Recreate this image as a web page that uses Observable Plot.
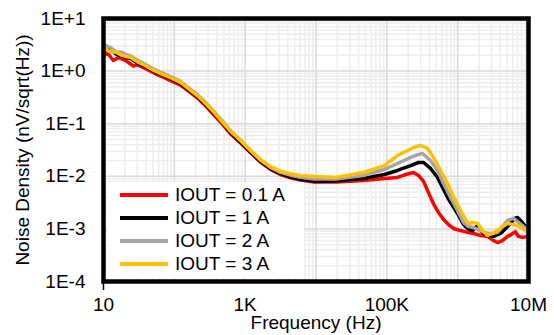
<!DOCTYPE html>
<html><head><meta charset="utf-8">
<script src="https://cdn.jsdelivr.net/npm/d3@7"></script>
<script src="https://cdn.jsdelivr.net/npm/@observablehq/plot@0.6"></script>
<style>
body{margin:0;background:#fff;font-family:"Liberation Sans",Arial,sans-serif;}
#wrap{position:relative;width:554px;height:335px;}
#legend{position:absolute;left:107px;top:182px;width:197px;height:96px;background:#fff;}
.row{position:absolute;left:0;height:23px;display:flex;align-items:center;font-size:19px;color:#000;white-space:nowrap;}
.sw{width:48px;height:4px;margin-left:13px;margin-right:7px;}
#ytitle{position:absolute;left:23px;top:150px;transform:translate(-50%,-50%) rotate(-90deg);font-size:19px;white-space:nowrap;color:#000;}
</style></head><body><div id="wrap"></div>
<script>
const seriesNames = ["IOUT = 0.1 A","IOUT = 1 A","IOUT = 2 A","IOUT = 3 A"];
const seriesColors = ["#ff0000","#000000","#a5a5a5","#ffc000"];

const freq01 = [10,11.8,13.8,16.3,20.5,26.5,30.2,40,46,55,71,90,122,160,210,270,360,480,621,860,1190,1650,2280,3150,4360,6000,9530,18900,46900,92700,141000,184000,238000,280000,330000,387000,456000,537000,631000,743000,873000,1.1e6,1.38e6,1.67e6,2.1e6,2.64e6,3.21e6,3.65e6,4.3e6,5.06e6,5.68e6,6.48e6,7.2e6,8.2e6,1e7];
const val01 = [2.16,2.07,1.59,1.81,1.59,1.25,1.33,1.1,1.0,0.88,0.76,0.65,0.54,0.41,0.31,0.225,0.148,0.097,0.064,0.043,0.028,0.0185,0.0135,0.0108,0.0094,0.0085,0.0078,0.0078,0.0083,0.0091,0.0095,0.0108,0.0118,0.0104,0.0080,0.0049,0.0030,0.00205,0.00151,0.00121,0.00102,0.00093,0.00086,0.00082,0.00075,0.00072,0.0006,0.00055,0.0006,0.00072,0.00078,0.00089,0.00072,0.00069,0.00072];

const freq1 = [10,12.6,15.3,18,20.5,24,30.2,40,46,55,71,90,122,160,210,270,360,480,621,860,1190,1650,2280,3150,4360,6000,9530,18900,46900,92700,141000,216000,280000,330000,414000,520000,720000,995000,1.21e6,1.38e6,1.62e6,1.85e6,2.1e6,2.32e6,2.73e6,3.21e6,4.03e6,4.74e6,5.57e6,6.35e6,7e6,8.2e6,1e7];
const val1 = [2.36,2.58,2.07,1.95,1.81,1.75,1.42,1.2,1.08,0.95,0.82,0.71,0.58,0.44,0.33,0.24,0.159,0.104,0.068,0.045,0.029,0.0192,0.0140,0.0112,0.0097,0.0088,0.0080,0.0081,0.0091,0.0108,0.0129,0.016,0.0183,0.0183,0.0141,0.0095,0.00395,0.00196,0.00121,0.00102,0.00093,0.00111,0.00093,0.00082,0.00075,0.00072,0.00082,0.00102,0.00127,0.00158,0.00165,0.00132,0.00093];

const freq2 = [10,12.6,15.3,18,20.5,24,30.2,40,46,55,71,90,122,160,210,270,360,480,621,860,1190,1650,2280,3150,4360,6000,9530,18900,46900,92700,141000,216000,280000,319000,414000,520000,631000,793000,995000,1.21e6,1.42e6,1.67e6,2.1e6,2.64e6,3.1e6,3.65e6,4.3e6,5.06e6,6.14e6,7e6,8.2e6,1e7];
const val2 = [3.2,2.8,2.26,2.3,2.07,1.95,1.6,1.32,1.18,1.04,0.90,0.78,0.64,0.48,0.36,0.26,0.172,0.112,0.073,0.049,0.031,0.0203,0.0148,0.0119,0.0105,0.0096,0.0089,0.0089,0.0104,0.0135,0.0175,0.0228,0.026,0.0271,0.020,0.0129,0.0073,0.00395,0.00224,0.00132,0.00111,0.00106,0.00093,0.00082,0.00082,0.00086,0.00111,0.00145,0.00158,0.00138,0.00116,0.00093];

const freq3 = [10,12,15.3,18,20.5,24,30.2,40,46,55,71,90,122,160,210,270,360,480,621,860,1190,1650,2280,3150,4360,6000,9530,18900,46900,92700,141000,184000,238000,299000,375000,456000,573000,720000,873000,1.1e6,1.29e6,1.42e6,1.62e6,1.91e6,2.24e6,2.64e6,3.1e6,3.65e6,4.3e6,5.06e6,5.95e6,7e6,8.2e6,1e7];
const val3 = [2.69,2.4,2.26,2.0,1.90,1.84,1.5,1.25,1.11,0.99,0.85,0.74,0.61,0.46,0.343,0.25,0.166,0.106,0.072,0.048,0.031,0.0206,0.0153,0.0125,0.0112,0.0104,0.0099,0.0095,0.0118,0.016,0.0248,0.0296,0.0353,0.0385,0.0338,0.0228,0.0129,0.0073,0.0041,0.00224,0.00151,0.00127,0.00132,0.00127,0.00093,0.00075,0.00082,0.00093,0.00111,0.00127,0.00121,0.00116,0.00102,0.00086];

const xTickValues = [10, 1e3, 1e5, 1e7];
const xTickLabels = ["10","1K","100K","10M"];
const yTickValues = [1e-4, 1e-3, 1e-2, 1e-1, 1, 10];
const yTickLabels = ["1E-4","1E-3","1E-2","1E-1","1E+0","1E+1"];
const xTitle = "Frequency (Hz)";
const yTitle = "Noise Density (nV/sqrt(Hz))";

const seriesData = [[freq01,val01],[freq1,val1],[freq2,val2],[freq3,val3]]
  .map(([fs, vs]) => fs.map((f, i) => ({f, v: vs[i]})));

const xMajor = [], xMinor = [], yMajor = [], yMinor = [];
for (let e = 1; e <= 7; e++) { xMajor.push(10 ** e); if (e < 7) for (let k = 2; k < 10; k++) xMinor.push(k * 10 ** e); }
for (let e = -4; e <= 1; e++) { yMajor.push(10 ** e); if (e < 1) for (let k = 2; k < 10; k++) yMinor.push(k * 10 ** e); }

const font = '"Liberation Sans", Arial, sans-serif';
const plot = Plot.plot({
  width: 554, height: 335,
  marginLeft: 103, marginRight: 26, marginTop: 18, marginBottom: 54,
  x: {type: "log", domain: [10, 1e7], label: null},
  y: {type: "log", domain: [1e-4, 10], label: null},
  style: {fontFamily: font, fontSize: "19px", background: "white", color: "black", overflow: "visible"},
  marks: [
    Plot.ruleX(xMinor, {stroke: "#ededed", strokeWidth: 1.5}),
    Plot.ruleY(yMinor, {stroke: "#ededed", strokeWidth: 1.5}),
    Plot.ruleX(xMajor, {stroke: "#d9d9d9", strokeWidth: 1.5}),
    Plot.ruleY(yMajor, {stroke: "#d9d9d9", strokeWidth: 1.5}),
    ...seriesData.map((d, i) => Plot.line(d, {x: "f", y: "v", stroke: seriesColors[i], strokeWidth: 3.5, strokeLinejoin: "round", strokeLinecap: "round"})),
    Plot.frame({stroke: "black", strokeWidth: 4.5}),
    Plot.axisX([10], {tickSize: 9, strokeWidth: 1.5, tickFormat: () => ""}),
    Plot.axisX(xTickValues, {tickSize: 0, tickPadding: 16, fontSize: 19, tickFormat: d => xTickLabels[xTickValues.indexOf(d)]}),
    Plot.axisY(yTickValues, {tickSize: 0, tickPadding: 18, fontSize: 19, tickFormat: d => yTickLabels[yTickValues.indexOf(d)]}),
    Plot.text([xTitle], {frameAnchor: "bottom", dy: 47, fontSize: 19, text: d => d})
  ]
});
const wrap = document.getElementById("wrap");
wrap.appendChild(plot);
const yt = document.createElement("div");
yt.id = "ytitle";
yt.textContent = yTitle;
wrap.appendChild(yt);
const legend = document.createElement("div");
legend.id = "legend";
seriesNames.forEach((name, i) => {
  const row = document.createElement("div");
  row.className = "row";
  row.style.top = (1.5 + 23 * i) + "px";
  const sw = document.createElement("div");
  sw.className = "sw";
  sw.style.background = seriesColors[i];
  const t = document.createElement("span");
  t.textContent = name;
  row.appendChild(sw); row.appendChild(t);
  legend.appendChild(row);
});
wrap.appendChild(legend);
</script></body></html>
